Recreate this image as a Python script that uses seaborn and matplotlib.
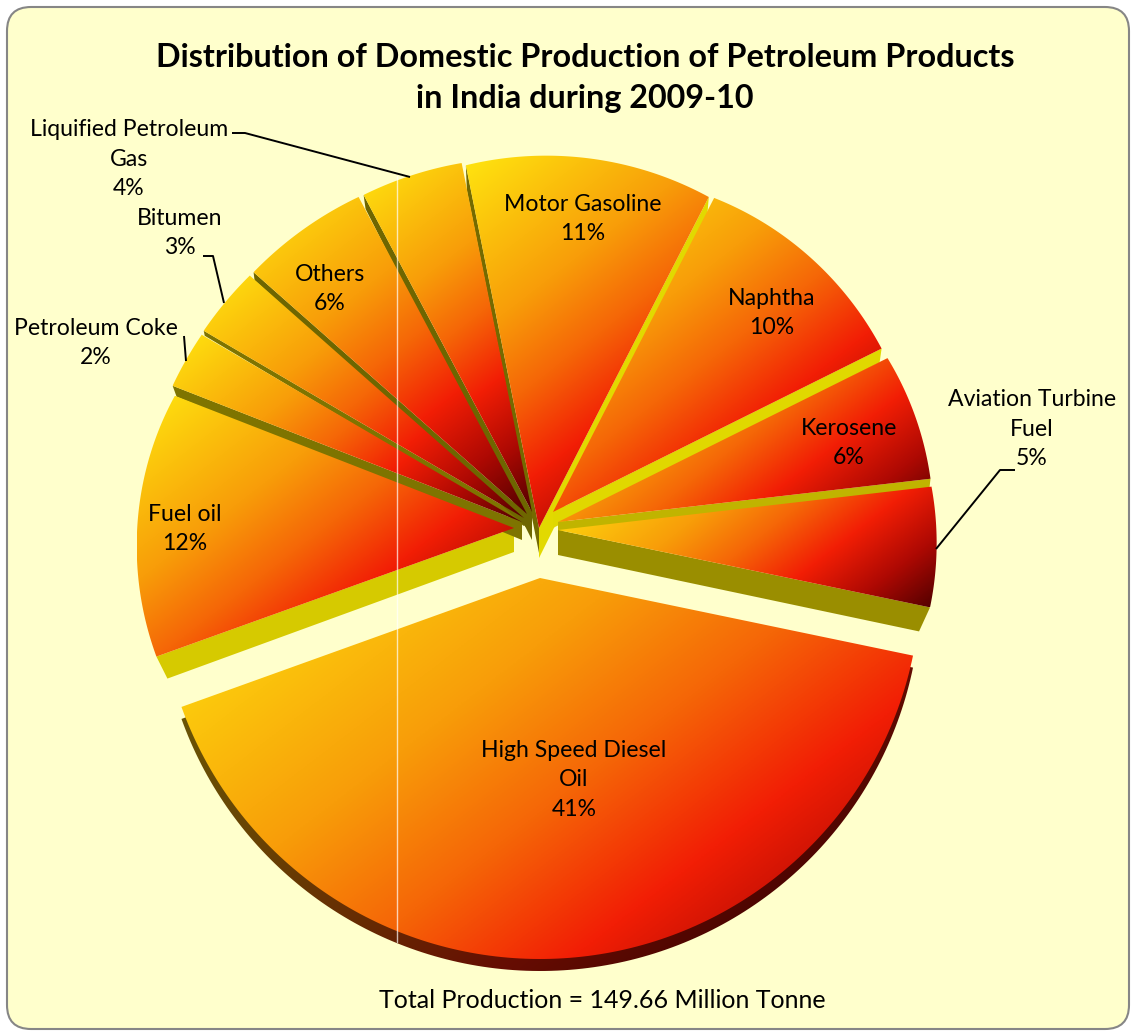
import numpy as np
import matplotlib
matplotlib.use("Agg")
import matplotlib.pyplot as plt
from matplotlib.patches import Polygon, FancyBboxPatch
import seaborn as sns

# ---- data ----
names = ["Motor Gasoline", "Naphtha", "Kerosene", "Aviation Turbine\nFuel",
         "High Speed Diesel\nOil", "Fuel oil", "Petroleum Coke", "Bitumen",
         "Others", "Liquified Petroleum\nGas"]
shares = [10.7, 10.1, 5.5, 5.1, 41.2, 11.4, 2.5, 3.1, 5.7, 4.6]
percent_labels = [11, 10, 6, 5, 41, 12, 2, 3, 6, 4]
title_text = "Distribution of Domestic Production of Petroleum Products\nin India during 2009-10"
note_text = "Total Production = 149.66 Million Tonne"

# ---- styling ----
start_clock = -11.4
apex_x = [539, 553, 558, 558, 540, 514, 522, 524, 527, 532]
apex_y = [528, 512, 522, 530, 578, 528, 522, 518, 514, 512]
r_start = [370, 353, 368, 376, 381, 380, 375, 371, 365, 359]
r_end = [372, 367, 375, 380, 381, 364, 371, 366, 359, 356]
r_bulge = [2, 2, 1, 1, 0, 4.5, 0, 0, 0, 0]
face_on_end = [1, 1, 1, 1, 0, 0, 0, 0, 0, 0]
face_dx = [-2, -2, -1, -11, 0, 11, 4, 1, 1, 2]
face_dy = [24, 14, 9, 24, 0, 22, 11, 5, 8, 14]
apex_dy = [30, 16, 10, 25, 0, 24, 18, 8, 14, 28]
face_col = ["#E2D900", "#E0D800", "#C0B400", "#9A8E00", "#000000",
            "#D6CA00", "#7E7400", "#7E7400", "#6E6600", "#6E6600"]
motor_left_col = "#746A00"
grad_stretch = [1, 1, 1, 1, 1.08, 1, 1, 1, 1, 1]
label_xy = [(583, 219), (772, 313), (849, 443), (1032, 429), (574, 780),
            (185, 529), (96, 343), (180, 233), (330, 289), (129, 159)]
leaders = [([232, 245, 410], [133, 133, 177]),
           ([203, 213, 224], [256, 256, 303]),
           ([184, 186], [336, 361]),
           ([1015, 1000, 936], [470, 470, 549])]
ramp = ["#FFE60F", "#FBC10C", "#F89D09", "#F56607", "#F21E05", "#AE0903", "#500000"]
grad_dir = (0.61, 0.79)

sns.set_theme(style="white")
plt.rcParams["font.family"] = ["Lato", "DejaVu Sans"]
cmap = sns.blend_palette(ramp, n_colors=256, as_cmap=True)

fig = plt.figure(figsize=(11.33, 10.36), dpi=100, facecolor="white")
ax = fig.add_axes([0, 0, 1, 1])
ax.axis("off")

ax.add_patch(FancyBboxPatch((27, 27), 1082, 982, boxstyle="round,pad=20,rounding_size=24",
                            fc="#FFFFCC", ec="#868686", lw=1.5, zorder=0))


def outline(cx, cy, a0, a1, i):
    u = np.linspace(0, 1, 160)
    a = np.radians(a0 + (a1 - a0) * u)
    r = r_start[i] + (r_end[i] - r_start[i]) * u + r_bulge[i] * 4 * u * (1 - u)
    return np.vstack([[cx, cy], np.column_stack([cx + r * np.sin(a), cy - r * np.cos(a)])])


def gradient(pts, stretch=1.0, dim=1.0, z=3):
    poly = Polygon(pts, closed=True, fc="none", ec="none")
    ax.add_patch(poly)
    x0, y0 = pts.min(axis=0)
    x1, y1 = pts.max(axis=0)
    n = 500
    xx, yy = np.meshgrid(np.linspace(0, x1 - x0, n), np.linspace(0, y1 - y0, n))
    t = (xx * grad_dir[0] + yy * grad_dir[1]) / ((x1 - x0) * grad_dir[0] + (y1 - y0) * grad_dir[1])
    rgba = cmap(t / stretch)
    rgba[..., :3] *= dim
    im = ax.imshow(rgba, extent=(x0, x1, y1, y0), origin="upper", zorder=z,
                   interpolation="bilinear", aspect="auto")
    im.set_clip_path(poly)


a0 = start_clock
total = sum(shares)
for i, s in enumerate(shares):
    a1 = a0 + 360 * s / total
    cx, cy = apex_x[i], apex_y[i]
    pts = outline(cx, cy, a0, a1, i)
    if face_dy[i]:
        p = pts[-1] if face_on_end[i] else pts[1]
        ax.add_patch(Polygon([(cx, cy), p, (p[0] + face_dx[i], p[1] + face_dy[i]),
                              (cx, cy + apex_dy[i])], closed=True, fc=face_col[i],
                             ec="none", zorder=2))
    if i == 0:
        p = pts[1]
        ax.add_patch(Polygon([(cx, cy), p, (p[0] + 1, p[1] + 25), (cx, cy + 25)], closed=True,
                             fc=motor_left_col, ec="none", zorder=2))
    if names[i].startswith("High"):
        gradient(pts + np.array([0, 12]), dim=0.42, z=1.5)
    gradient(pts, stretch=grad_stretch[i])
    a0 = a1

for x, y in leaders:
    ax.plot(x, y, color="black", lw=1.4, zorder=5, solid_capstyle="butt")

ax.plot([397, 397], [176, 942], color="white", lw=1, alpha=0.7, zorder=4)

for (x, y), n, p in zip(label_xy, names, percent_labels):
    ax.text(x, y, f"{n}\n{p}%", ha="center", va="center", fontsize=16.6, color="black",
            linespacing=1.52, zorder=6)

ax.text(585, 78, title_text, ha="center", va="center", fontsize=23.3, fontweight="bold",
        color="black", linespacing=1.48, zorder=6)
ax.text(602, 1000, note_text, ha="center", va="center", fontsize=18, color="black", zorder=6)

ax.set_xlim(0, 1133)
ax.set_ylim(1036, 0)
fig.savefig("out.png", dpi=100)
